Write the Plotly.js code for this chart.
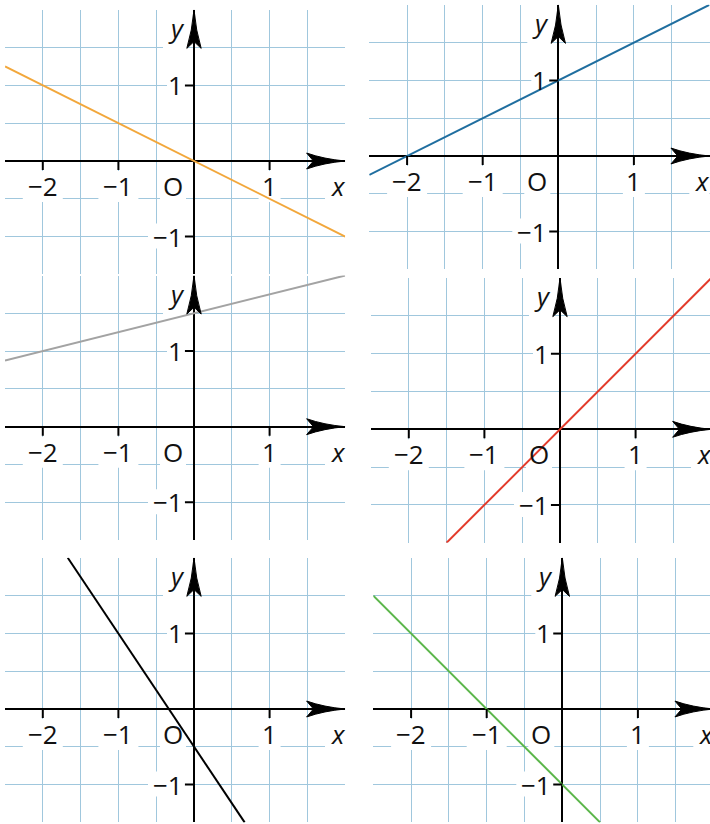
<!DOCTYPE html>
<html><head><meta charset="utf-8">
<script src="https://cdn.plot.ly/plotly-3.0.1.min.js"></script>
<style>html,body{margin:0;padding:0;background:#fff}#chart{width:710px;height:824px}</style>
</head><body><div id="chart"></div>
<script>
// ---- data ----
const orangeX = [-2.5, 2.0];  const orangeY = [1.25, -1.0];
const blueX   = [-2.5, 2.0];  const blueY   = [-0.25, 2.0];
const grayX   = [-2.5, 2.0];  const grayY   = [0.875, 2.0];
const redX    = [-1.5, 2.0];  const redY    = [-1.5, 2.0];
const blackX  = [-1.67, 0.67]; const blackY = [2.0, -1.5];
const greenX  = [-2.5, 0.5];  const greenY  = [1.5, -1.5];
const xTickVals = [-2, -1, 1];
const xTickText = ['−2', '−1', '1'];
const yTickVals = [1, -1];
const yTickText = ['1', '−1'];
const gridX = [-2, -1.5, -1, -0.5, 0.5, 1, 1.5];
const gridY = [-1, -0.5, 0.5, 1, 1.5];
const originLabel = 'O';
const xName = 'x', yName = 'y';

const series = [
  {x: orangeX, y: orangeY, color: '#f2a73b'},
  {x: blueX,   y: blueY,   color: '#1f6e9f'},
  {x: grayX,   y: grayY,   color: '#a3a3a3'},
  {x: redX,    y: redY,    color: '#e33a2a'},
  {x: blackX,  y: blackY,  color: '#000000'},
  {x: greenX,  y: greenY,  color: '#5bb64a'}
];

// ---- layout geometry (pixel position of origin of each panel) ----
const W = 710, H = 824, PU = 75.6;
const origins = [[194,161],[558.3,156],[194,426.7],[560,429.3],[194,709],[562.3,709]];
const XMIN = -2.5, XMAX = 2.0, YMIN = -1.5, YMAX = 2.0;
const GRID = 'rgb(160,199,221)';
const FONT = {family: 'Open Sans, Noto Sans, sans-serif', size: 26, color: '#111'};

const data = [];
const layout = {width: W, height: H, margin: {l:0,r:0,t:0,b:0}, showlegend: false,
  paper_bgcolor: '#fff', plot_bgcolor: '#fff', shapes: [], annotations: []};

origins.forEach((o, i) => {
  const n = i === 0 ? '' : String(i + 1);
  const xa = 'x' + n, ya = 'y' + n;
  const x0 = o[0] + XMIN * PU;
  let x1 = o[0] + XMAX * PU;
  const xEnd = x1 > W ? XMAX - (x1 - W) / PU : XMAX;
  x1 = Math.min(x1, W);
  const top = o[1] - YMAX * PU, bot = o[1] - YMIN * PU;
  layout['xaxis' + n] = {domain: [x0 / W, x1 / W], range: [XMIN, xEnd], anchor: ya,
    tickmode: 'array', tickvals: gridX, showticklabels: false, ticks: '',
    showgrid: true, gridcolor: GRID, gridwidth: 1,
    zeroline: true, zerolinecolor: '#000', zerolinewidth: 2, showline: false, fixedrange: true};
  layout['yaxis' + n] = {domain: [1 - bot / H, 1 - top / H], range: [YMIN, YMAX], anchor: xa,
    tickmode: 'array', tickvals: gridY, showticklabels: false, ticks: '',
    showgrid: true, gridcolor: GRID, gridwidth: 1,
    zeroline: true, zerolinecolor: '#000', zerolinewidth: 2, showline: false, fixedrange: true};

  const s = series[i];
  data.push({type: 'scatter', mode: 'lines', x: s.x, y: s.y, xaxis: xa, yaxis: ya,
    line: {color: s.color, width: 2}, hoverinfo: 'skip'});

  const box = (ax, ay, px0, px1, py0, py1) => layout.shapes.push({type: 'rect', layer: 'between',
    xref: xa, yref: ya, xsizemode: 'pixel', ysizemode: 'pixel', xanchor: ax, yanchor: ay,
    x0: px0, x1: px1, y0: py0, y1: py1, fillcolor: '#fff', line: {width: 0}});
  const ann = (text, ax, ay, xs, ys, xanc) => layout.annotations.push({text, x: ax, y: ay,
    xref: xa, yref: ya, xshift: xs, yshift: ys, showarrow: false, xanchor: xanc || 'center',
    yanchor: 'middle', font: FONT});

  // x tick labels + ticks
  xTickVals.forEach((t, k) => {
    const w = xTickText[k].length > 1 ? 20 : 11;
    box(t, 0, -w, w, -10, -41);
    ann(xTickText[k], t, 0, 0, -25);
    layout.shapes.push({type: 'line', xref: xa, yref: ya, x0: t, x1: t, y0: 0, y1: -0.12,
      line: {color: '#000', width: 2}});
  });
  // y tick labels + ticks
  yTickVals.forEach((t, k) => {
    const w = yTickText[k].length > 1 ? 46 : 27;
    box(0, t, -w, -8, -12, 13);
    ann(yTickText[k], 0, t, -9, 0, 'right');
    layout.shapes.push({type: 'line', xref: xa, yref: ya, x0: 0, x1: -0.12, y0: t, y1: t,
      line: {color: '#000', width: 2}});
  });
  // origin, axis names
  box(0, 0, -34, -8, -10, -41);
  ann(originLabel, 0, 0, -21, -25);
  box(0, 0, 131, 170, -10, -41);
  ann('<i>' + xName + '</i>', 0, 0, 144, -25);
  box(0, 0, -31, -6, 100, 150);
  ann('<i>' + yName + '</i>', 0, 0, -18, 133);

  // arrowheads
  layout.shapes.push({type: 'path', xref: xa, yref: ya, layer: 'above',
    path: 'M 2,0 Q 1.72,0.025 1.49,0.105 L 1.58,0 L 1.49,-0.105 Q 1.72,-0.025 2,0 Z',
    fillcolor: '#000', line: {color: '#000', width: 1}});
  layout.shapes.push({type: 'path', xref: xa, yref: ya, layer: 'above',
    path: 'M 0,2 Q 0.025,1.72 0.095,1.49 L 0,1.58 L -0.095,1.49 Q -0.025,1.72 0,2 Z',
    fillcolor: '#000', line: {color: '#000', width: 1}});
});

Plotly.newPlot('chart', data, layout, {staticPlot: true, displayModeBar: false});
</script></body></html>
